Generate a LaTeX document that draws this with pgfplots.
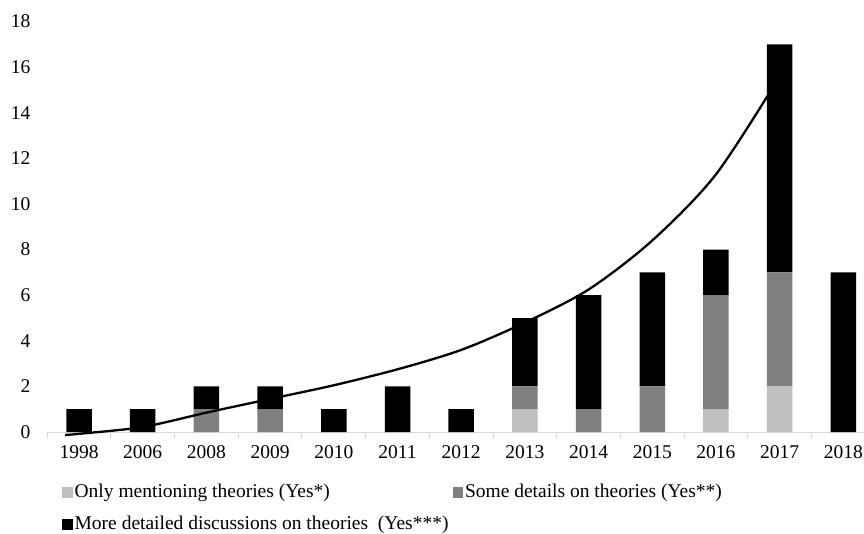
\documentclass[border=0pt]{standalone}
\usepackage{pgfplots}
\pgfplotsset{compat=1.18}
\usepackage{pgfplotstable}
\usepackage{fontspec}
\setmainfont{Liberation Serif}
\definecolor{lightbar}{HTML}{BFBFBF}
\definecolor{midbar}{HTML}{7F7F7F}
\definecolor{axisgray}{HTML}{D9D9D9}
\pgfplotstableread{
x l m h
0 0 0 1
1 0 0 1
2 0 1 1
3 0 1 1
4 0 0 1
5 0 0 2
6 0 0 1
7 1 1 3
8 0 1 5
9 0 2 5
10 1 5 2
11 2 5 10
12 0 0 7
}\datatable
\begin{document}
\begin{tikzpicture}
\fontsize{19.5}{23}\selectfont
\path[use as bounding box] (-47.2pt,-101pt) rectangle (816.8pt,432pt);
\begin{axis}[
  at={(0,0)}, anchor=south west,
  scale only axis, width=828pt, height=410.4pt,
  ybar stacked, bar width=25.5pt,
  xmin=-0.5, xmax=12.5, ymin=0, ymax=18,
  ytick={0,2,...,18},
  xtick={0,...,12},
  xticklabels={1998,2006,2008,2009,2010,2011,2012,2013,2014,2015,2016,2017,2018},
  minor xtick={-0.5,0.5,...,12.5},
  major tick length=0pt, minor tick length=5.5pt,
  tick align=outside,
  axis x line*=bottom, axis y line*=left,
  x axis line style={draw=axisgray, line width=1pt, -},
  y axis line style={draw=none},
  minor tick style={draw=axisgray, line width=1pt},
  ytick style={draw=none},
  /pgf/number format/assume math mode=true,
  tick label style={font=\fontsize{19.5}{23}\selectfont},
  yticklabel style={xshift=-10pt},
  xticklabel style={yshift=-7pt},
  legend columns=2,
  legend cell align=left,
  legend style={draw=none, fill=none, at={(0.0178,-0.122)}, anchor=north west,
    font=\fontsize{19.5}{23}\selectfont,
    nodes={inner xsep=2pt},
    /tikz/every even column/.append style={column sep=2pt},
    row sep=11.5pt, inner sep=0pt},
  legend image code/.code={\fill[#1,draw=none] (0pt,-5.5pt) rectangle (10.5pt,5pt);},
]
\addplot[fill=lightbar, draw=none] table[x=x,y=l] {\datatable};
\addlegendentry{Only mentioning theories (Yes*)}
\addplot[fill=midbar, draw=none] table[x=x,y=m] {\datatable};
\addlegendentry{Some details on theories (Yes**)}
\addplot[fill=black, draw=none] table[x=x,y=h] {\datatable};
\addlegendentry{More detailed discussions on theories\ \ (Yes***)}
\end{axis}
\begin{axis}[
  at={(0,0)}, anchor=south west,
  scale only axis, width=828pt, height=410.4pt,
  xmin=-0.5, xmax=12.5, ymin=0, ymax=18,
  hide axis, clip=false,
]
\addplot[black, line width=2.3pt, smooth, tension=0.5] coordinates {
(-0.22,-0.13) (0,-0.08) (1,0.22) (2,0.85) (3,1.45) (4,2.05) (5,2.75) (6,3.6) (7,4.8) (8,6.25) (9,8.4) (10,11.3) (11,15.6)
};
\end{axis}
\end{tikzpicture}
\end{document}
